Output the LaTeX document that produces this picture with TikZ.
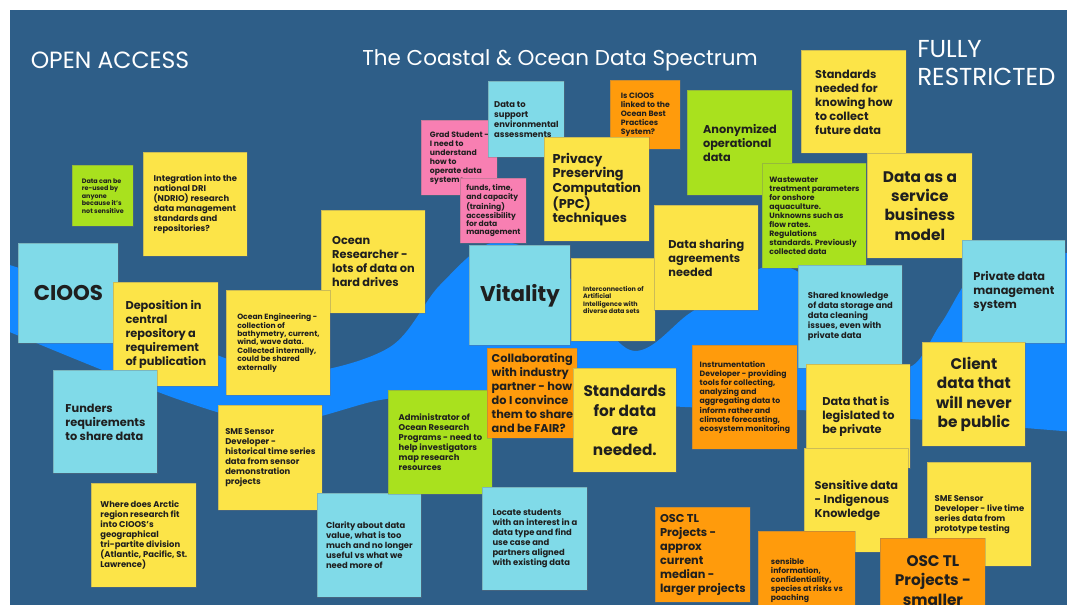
\documentclass[tikz,border=0pt]{standalone}
\usepackage{fontspec}
\setmainfont{Poppins}
\definecolor{boardbg}{HTML}{2E5E88}
\definecolor{wavecol}{HTML}{1388FF}
\definecolor{noteyellow}{HTML}{FCE448}
\definecolor{notesky}{HTML}{80DAE8}
\definecolor{notelime}{HTML}{A9E11E}
\definecolor{noteorange}{HTML}{FF9B0C}
\definecolor{notepink}{HTML}{F87FB2}
\tikzset{
  note/.style={draw=black!55, draw opacity=0.35, line width=0.6pt, align=left,
    text=black!88, inner sep=0pt},
  fxs/.style={font=\fontsize{4.8}{5.6}\selectfont\bfseries},
  fsm/.style={font=\fontsize{5.7}{6.3}\selectfont\bfseries},
  fsp/.style={font=\fontsize{5.8}{6.8}\selectfont\bfseries},
  fmd/.style={font=\fontsize{6.3}{7.5}\selectfont\bfseries},
  flg/.style={font=\fontsize{8.5}{10.5}\selectfont\bfseries},
  flp/.style={font=\fontsize{9.6}{10.3}\selectfont\bfseries},
  fxl/.style={font=\fontsize{11.5}{14.6}\selectfont\bfseries, align=center},
  fxxl/.style={font=\fontsize{16}{19}\selectfont\bfseries},
  heading/.style={text=white, inner sep=0pt}
}
% #1 name, #2-#5 corners in px, #6 fill, #7 text style, #8 text
\newcommand\stickynote[8]{%
  \pgfmathsetlengthmacro\nw{(#4-#2)*0.75}%
  \pgfmathsetlengthmacro\nh{(#5-#3)*0.75}%
  \node[note, fill=#6, #7, minimum width=\nw, minimum height=\nh, anchor=north west]
    (#1) at (#2,#3) {#8};}
\begin{document}
\begin{tikzpicture}[x=0.75pt, y=-0.75pt]
\useasboundingbox (0,0) rectangle (1067,605);
\clip (0,0) rectangle (1067,605);
\fill[white] (0,0) rectangle (1067,605);
\fill[boardbg] (10,10) rectangle (1067,605);
% the wave: crested surface on top, gentle bottom edge
\begin{scope}
\clip (10,10) rectangle (1067,605);
\fill[wavecol]
  plot[smooth, tension=0.55] coordinates {(0,262) (120,303) (222,357) (300,373)
    (390,347) (440,285) (495,242) (560,268) (630,350) (690,313) (745,276)
    (785,266) (845,305) (905,367) (940,325) (970,277) (1010,247) (1075,255)}
  -- plot[smooth, tension=0.55] coordinates {(1075,432) (1050,430) (900,418)
    (800,410) (685,407) (550,398) (450,394) (380,400) (280,423) (180,400) (0,328)}
  -- cycle;
\end{scope}
% headings
\node[heading, font=\fontsize{17.6}{21}\selectfont] (open) at (110,60) {OPEN ACCESS};
\node[heading, font=\fontsize{16.1}{21}\selectfont] (title) at (560,60) {The Coastal \& Ocean Data Spectrum};
\node[heading, font=\fontsize{18.4}{21}\selectfont, anchor=west, align=left] (restr) at (917,63) {FULLY\\RESTRICTED};
% sticky notes, back to front
\stickynote{reuse}{72}{165}{133}{226}{notelime}{fxs}{Data can be\\re-used by\\anyone\\because it's\\not sensitive}
\stickynote{ndrio}{143}{152}{247}{256}{noteyellow}{fmd}{Integration into the\\national DRI\\(NDRIO) research\\data management\\standards and\\repositories?}
\stickynote{cioos}{18}{243}{118}{343}{notesky}{fxxl}{CIOOS}
\stickynote{deposit}{113}{282}{218}{386}{noteyellow}{flg}{Deposition in\\central\\repository a\\requirement\\of publication}
\stickynote{funders}{53}{370}{157}{473}{notesky}{flg}{Funders\\requirements\\to share data}
\stickynote{arctic}{91}{483}{196}{587}{noteyellow}{fmd}{Where does Arctic\\region research fit\\into CIOOS's\\geographical\\tri-partite division\\(Atlantic, Pacific, St.\\Lawrence)}
\stickynote{researcher}{321}{210}{425}{313}{noteyellow}{flg}{Ocean\\Researcher -\\lots of data on\\hard drives}
\stickynote{engineering}{226}{290}{330}{395}{noteyellow}{fsm}{Ocean Engineering -\\collection of\\bathymetry, current,\\wind, wave data.\\Collected internally,\\could be shared\\externally}
\stickynote{smehist}{218}{405}{322}{510}{noteyellow}{fmd}{SME Sensor\\Developer -\\historical time series\\data from sensor\\demonstration\\projects}
\stickynote{clarity}{317}{493}{421}{597}{notesky}{fmd}{Clarity about data\\value, what is too\\much and no longer\\useful vs what we\\need more of}
\stickynote{admin}{388}{390}{492}{494}{notelime}{fmd}{Administrator of\\Ocean Research\\Programs - need to\\help investigators\\map research\\resources}
\stickynote{students}{482}{487}{587}{590}{notesky}{fmd}{Locate students\\with an interest in a\\data type and find\\use case and\\partners aligned\\with existing data}
\stickynote{grad}{421}{120}{497}{195}{notepink}{fsp}{Grad Student -\\I need to\\understand\\how to\\operate data\\systems}
\stickynote{funds}{460}{178}{526}{243}{notepink}{fsm}{funds, time,\\and capacity\\(training)\\accessibility\\for data\\management}
\stickynote{envassess}{488}{81}{564}{157}{notesky}{fmd}{Data to\\support\\environmental\\assessments}
\stickynote{bestpract}{610}{80}{680}{149}{noteorange}{fsp}{Is CIOOS\\linked to the\\Ocean Best\\Practices\\System?}
\stickynote{ppc}{544}{137}{649}{241}{noteyellow}{flp}{Privacy\\Preserving\\Computation\\(PPC)\\techniques}
\stickynote{vitality}{469}{245}{570}{345}{notesky}{fxxl}{Vitality}
\stickynote{ai}{571}{258}{655}{341}{noteyellow}{fxs}{Interconnection of\\Artificial\\Intelligence with\\diverse data sets}
\stickynote{sharing}{654}{205}{758}{310}{noteyellow}{flg}{Data sharing\\agreements\\needed}
\stickynote{anon}{687}{90}{792}{195}{notelime}{flg}{Anonymized\\operational\\data}
\stickynote{wastewater}{762}{163}{866}{268}{notelime}{fsp}{Wastewater\\treatment parameters\\for onshore\\aquaculture.\\Unknowns such as\\flow rates.\\Regulations\\standards. Previously\\collected data}
\stickynote{collect}{801}{50}{906}{153}{noteyellow}{flg}{Standards\\needed for\\knowing how\\to collect\\future data}
\stickynote{daas}{867}{153}{972}{258}{noteyellow}{fxl}{Data as a\\service\\business\\model}
\stickynote{privsys}{962}{240}{1065}{343}{notesky}{flg}{Private data\\management\\system}
\stickynote{shared}{798}{265}{902}{368}{notesky}{fmd}{Shared knowledge\\of data storage and\\data cleaning\\issues, even with\\private data}
\stickynote{industry}{487}{348}{577}{438}{noteorange}{flg}{Collaborating\\with industry\\partner - how\\do I convince\\them to share\\and be FAIR?}
\stickynote{standards}{573}{368}{676}{472}{noteyellow}{fxl}{Standards\\for data\\are\\needed.}
\stickynote{instrument}{692}{345}{797}{449}{noteorange}{fsp}{Instrumentation\\Developer - providing\\tools for collecting,\\analyzing and\\aggregating data to\\inform rather and\\climate forecasting,\\ecosystem monitoring}
\stickynote{legislated}{806}{364}{910}{468}{noteyellow}{flg}{Data that is\\legislated to\\be private}
\stickynote{client}{922}{342}{1025}{446}{noteyellow}{fxl}{Client\\data that\\will never\\be public}
\stickynote{indigenous}{804}{448}{908}{552}{noteyellow}{flg}{Sensitive data\\- Indigenous\\Knowledge}
\stickynote{smelive}{927}{462}{1031}{566}{noteyellow}{fmd}{SME Sensor\\Developer - live time\\series data from\\prototype testing}
\stickynote{osclarge}{655}{507}{750}{602}{noteorange}{flg}{OSC TL\\Projects -\\approx\\current\\median -\\larger projects}
\stickynote{sensible}{758}{531}{855}{629}{noteorange}{fsp}{sensible\\information,\\confidentiality,\\species at risks vs\\poaching}
\stickynote{oscsmall}{880}{538}{985}{622}{noteorange}{fxl}{OSC TL\\Projects -\\smaller}
\end{tikzpicture}
\end{document}
